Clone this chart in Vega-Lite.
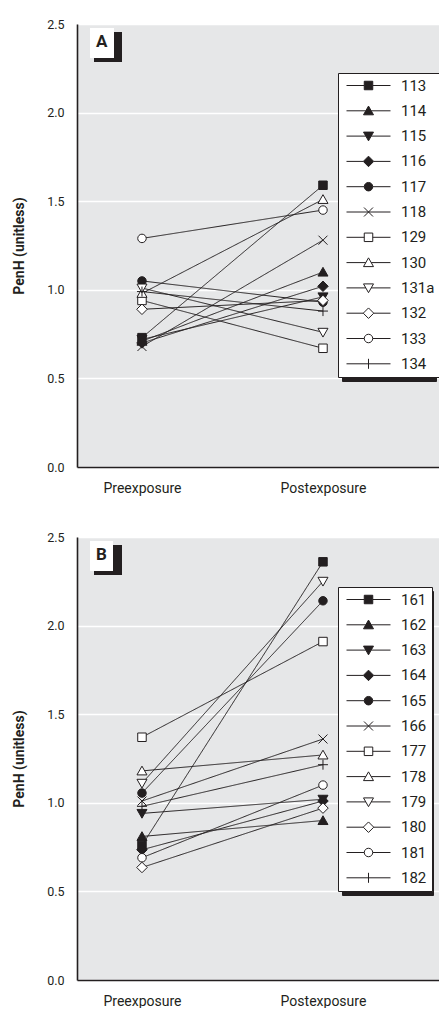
{
  "$schema": "https://vega.github.io/schema/vega-lite/v6.json",
  "padding": {"left": 12, "top": 18, "right": 0, "bottom": 0},
  "autosize": {"type": "pad"},
  "background": "white",
  "config": {
    "font": "Roboto",
    "view": {"fill": "#e6e7e8", "stroke": null},
    "axis": {"labelFont": "Roboto", "labelColor": "#231f20", "titleColor": "#231f20", "domainColor": "#231f20", "domainWidth": 1.6, "ticks": false, "gridColor": "white", "gridWidth": 1.5, "gridOpacity": 1},
    "legend": {"labelFont": "Roboto", "labelColor": "#231f20", "titleFont": "Roboto"}
  },
  "data": {"values": [
    {"panel": "A", "id": "113", "phase": "Preexposure", "value": 0.73},
    {"panel": "A", "id": "113", "phase": "Postexposure", "value": 1.59},
    {"panel": "A", "id": "114", "phase": "Preexposure", "value": 0.71},
    {"panel": "A", "id": "114", "phase": "Postexposure", "value": 1.10},
    {"panel": "A", "id": "115", "phase": "Preexposure", "value": 0.72},
    {"panel": "A", "id": "115", "phase": "Postexposure", "value": 0.96},
    {"panel": "A", "id": "116", "phase": "Preexposure", "value": 0.70},
    {"panel": "A", "id": "116", "phase": "Postexposure", "value": 1.02},
    {"panel": "A", "id": "117", "phase": "Preexposure", "value": 1.05},
    {"panel": "A", "id": "117", "phase": "Postexposure", "value": 0.93},
    {"panel": "A", "id": "118", "phase": "Preexposure", "value": 0.68},
    {"panel": "A", "id": "118", "phase": "Postexposure", "value": 1.28},
    {"panel": "A", "id": "129", "phase": "Preexposure", "value": 0.94},
    {"panel": "A", "id": "129", "phase": "Postexposure", "value": 0.67},
    {"panel": "A", "id": "130", "phase": "Preexposure", "value": 0.98},
    {"panel": "A", "id": "130", "phase": "Postexposure", "value": 1.51},
    {"panel": "A", "id": "131a", "phase": "Preexposure", "value": 1.01},
    {"panel": "A", "id": "131a", "phase": "Postexposure", "value": 0.76},
    {"panel": "A", "id": "132", "phase": "Preexposure", "value": 0.89},
    {"panel": "A", "id": "132", "phase": "Postexposure", "value": 0.94},
    {"panel": "A", "id": "133", "phase": "Preexposure", "value": 1.29},
    {"panel": "A", "id": "133", "phase": "Postexposure", "value": 1.45},
    {"panel": "A", "id": "134", "phase": "Preexposure", "value": 0.99},
    {"panel": "A", "id": "134", "phase": "Postexposure", "value": 0.88},
    {"panel": "B", "id": "161", "phase": "Preexposure", "value": 0.76},
    {"panel": "B", "id": "161", "phase": "Postexposure", "value": 2.36},
    {"panel": "B", "id": "162", "phase": "Preexposure", "value": 0.81},
    {"panel": "B", "id": "162", "phase": "Postexposure", "value": 0.90},
    {"panel": "B", "id": "163", "phase": "Preexposure", "value": 0.94},
    {"panel": "B", "id": "163", "phase": "Postexposure", "value": 1.02},
    {"panel": "B", "id": "164", "phase": "Preexposure", "value": 0.735},
    {"panel": "B", "id": "164", "phase": "Postexposure", "value": 1.01},
    {"panel": "B", "id": "165", "phase": "Preexposure", "value": 1.055},
    {"panel": "B", "id": "165", "phase": "Postexposure", "value": 2.14},
    {"panel": "B", "id": "166", "phase": "Preexposure", "value": 1.01},
    {"panel": "B", "id": "166", "phase": "Postexposure", "value": 1.36},
    {"panel": "B", "id": "177", "phase": "Preexposure", "value": 1.37},
    {"panel": "B", "id": "177", "phase": "Postexposure", "value": 1.91},
    {"panel": "B", "id": "178", "phase": "Preexposure", "value": 1.18},
    {"panel": "B", "id": "178", "phase": "Postexposure", "value": 1.27},
    {"panel": "B", "id": "179", "phase": "Preexposure", "value": 1.11},
    {"panel": "B", "id": "179", "phase": "Postexposure", "value": 2.25},
    {"panel": "B", "id": "180", "phase": "Preexposure", "value": 0.635},
    {"panel": "B", "id": "180", "phase": "Postexposure", "value": 0.97},
    {"panel": "B", "id": "181", "phase": "Preexposure", "value": 0.69},
    {"panel": "B", "id": "181", "phase": "Postexposure", "value": 1.10},
    {"panel": "B", "id": "182", "phase": "Preexposure", "value": 0.98},
    {"panel": "B", "id": "182", "phase": "Postexposure", "value": 1.215}
  ]},
  "spacing": 36,
  "resolve": {"scale": {"strokeDash": "independent", "shape": "independent", "fill": "independent", "stroke": "independent"}, "legend": {"strokeDash": "independent", "shape": "independent", "fill": "independent", "stroke": "independent"}},
  "vconcat": [
    {
      "width": 362,
      "height": 443,
      "transform": [{"filter": "datum.panel === 'A'"}],
      "encoding": {
        "x": {"field": "phase", "type": "nominal", "sort": ["Preexposure", "Postexposure"], "scale": {"paddingOuter": 0.7483, "align": 0.359}, "axis": {"title": null, "labelAngle": 0, "labelFontSize": 14, "labelPadding": 14, "grid": false}},
        "y": {"field": "value", "type": "quantitative", "scale": {"domain": [0, 2.5], "nice": false}, "axis": {"title": "PenH (unitless)", "titleFontSize": 14, "titleFontWeight": "bold", "titlePadding": 20, "values": [0, 0.5, 1, 1.5, 2, 2.5], "format": ".1f", "labelFontSize": 12.5, "labelPadding": 13}}
      },
      "layer": [
        {"mark": {"type": "line", "stroke": "#231f20", "strokeWidth": 1, "opacity": 0},
         "encoding": {
           "detail": {"field": "id"},
           "strokeDash": {"field": "panel", "type": "nominal", "scale": {"range": [[1, 0]]}, "legend": {"title": "\u00a0", "titleFontSize": 6, "titleColor": "#231f20", "titlePadding": 0, "orient": "none", "legendX": 17, "legendY": 8, "fillColor": "#231f20", "padding": 11.5, "labelExpr": "''", "labelFontSize": 0.01, "labelOpacity": 0, "symbolSize": 0, "symbolStrokeWidth": 0, "symbolOpacity": 0}}
         }},
        {"mark": {"type": "line", "stroke": "#231f20", "strokeWidth": 1},
         "encoding": {
           "detail": {"field": "id"},
           "strokeDash": {"field": "panel", "type": "nominal", "scale": {"range": [[1, 0]]}, "legend": {"title": "A", "titleFontSize": 17, "titleFontWeight": "bold", "titleColor": "#231f20", "titlePadding": 0, "orient": "none", "legendX": 13, "legendY": 4, "fillColor": "white", "padding": 6, "labelExpr": "''", "labelFontSize": 0.01, "labelOpacity": 0, "symbolSize": 0, "symbolStrokeWidth": 0, "symbolOpacity": 0}}
         }},
        {"mark": {"type": "point", "filled": true, "size": 100, "stroke": "#231f20", "strokeWidth": 1, "opacity": 1},
         "encoding": {
           "shape": {"field": "id", "type": "nominal", "legend": null, "scale": {"domain": ["113","114","115","116","117","118","129","130","131a","132","133","134"], "range": [
             "M-0.85,-0.85H0.85V0.85H-0.85Z",
             "M0,-0.95L1,0.8H-1Z",
             "M0,0.95L1,-0.8H-1Z",
             "M0,-1.05L1.05,0L0,1.05L-1.05,0Z",
             "M-0.85,0A0.85,0.85,0,1,0,0.85,0A0.85,0.85,0,1,0,-0.85,0Z",
             "M-0.9,-0.9L0.9,0.9M-0.9,0.9L0.9,-0.9",
             "M-0.85,-0.85H0.85V0.85H-0.85Z",
             "M0,-0.95L1,0.8H-1Z",
             "M0,0.95L1,-0.8H-1Z",
             "M0,-1.05L1.05,0L0,1.05L-1.05,0Z",
             "M-0.85,0A0.85,0.85,0,1,0,0.85,0A0.85,0.85,0,1,0,-0.85,0Z",
             "M-1,0H1M0,-1V1"]}},
           "fill": {"field": "id", "type": "nominal", "legend": null, "scale": {"domain": ["113","114","115","116","117","118","129","130","131a","132","133","134"], "range": ["#231f20","#231f20","#231f20","#231f20","#231f20","#231f20","white","white","white","white","white","white"]}}
         }},
        {"mark": {"type": "point", "filled": true, "size": 100, "strokeWidth": 1, "opacity": 0},
         "encoding": {
           "shape": {"field": "id", "type": "nominal", "scale": {"domain": ["113","114","115","116","117","118","129","130","131a","132","133","134"], "range": [
             "M-4.4,0H-0.85M0.85,0H4.4M-0.85,-0.85H0.85V0.85H-0.85Z",
             "M-4.4,0H-0.54M0.54,0H4.4M0,-0.95L1,0.8H-1Z",
             "M-4.4,0H-0.54M0.54,0H4.4M0,0.95L1,-0.8H-1Z",
             "M-4.4,0H-1.05M1.05,0H4.4M0,-1.05L1.05,0L0,1.05L-1.05,0Z",
             "M-4.4,0H-0.85M0.85,0H4.4M-0.85,0A0.85,0.85,0,1,0,0.85,0A0.85,0.85,0,1,0,-0.85,0Z",
             "M-4.4,0H4.4M-0.9,-0.9L0.9,0.9M-0.9,0.9L0.9,-0.9",
             "M-4.4,0H-0.85M0.85,0H4.4M-0.85,-0.85H0.85V0.85H-0.85Z",
             "M-4.4,0H-0.54M0.54,0H4.4M0,-0.95L1,0.8H-1Z",
             "M-4.4,0H-0.54M0.54,0H4.4M0,0.95L1,-0.8H-1Z",
             "M-4.4,0H-1.05M1.05,0H4.4M0,-1.05L1.05,0L0,1.05L-1.05,0Z",
             "M-4.4,0H-0.85M0.85,0H4.4M-0.85,0A0.85,0.85,0,1,0,0.85,0A0.85,0.85,0,1,0,-0.85,0Z",
             "M-4.4,0H4.4M0,-1V1"]},
             "legend": {"title": null, "orient": "none", "legendX": 265, "legendY": 53, "strokeColor": "#231f20", "fillColor": "#231f20", "padding": 5, "rowPadding": 9.3, "labelFontSize": 15, "symbolOffset": 18, "labelOffset": 51, "labelOpacity": 0, "symbolOpacity": 0, "labelExpr": "'\u00a0\u00a0\u00a0\u00a0\u00a0\u00a0\u00a0\u00a0\u00a0'"}},
           "fill": {"field": "id", "type": "nominal", "scale": {"domain": ["113","114","115","116","117","118","129","130","131a","132","133","134"], "range": ["#231f20","#231f20","#231f20","#231f20","#231f20","#231f20","white","white","white","white","white","white"]}},
           "stroke": {"field": "id", "type": "nominal", "scale": {"domain": ["113","114","115","116","117","118","129","130","131a","132","133","134"], "range": ["#231f20","#231f20","#231f20","#231f20","#231f20","#231f20","#231f20","#231f20","#231f20","#231f20","#231f20","#231f20"]}}
         }},
        {"mark": {"type": "point", "filled": true, "size": 100, "strokeWidth": 1, "opacity": 0},
         "encoding": {
           "shape": {"field": "id", "type": "nominal", "scale": {"domain": ["113","114","115","116","117","118","129","130","131a","132","133","134"], "range": [
             "M-4.4,0H-0.85M0.85,0H4.4M-0.85,-0.85H0.85V0.85H-0.85Z",
             "M-4.4,0H-0.54M0.54,0H4.4M0,-0.95L1,0.8H-1Z",
             "M-4.4,0H-0.54M0.54,0H4.4M0,0.95L1,-0.8H-1Z",
             "M-4.4,0H-1.05M1.05,0H4.4M0,-1.05L1.05,0L0,1.05L-1.05,0Z",
             "M-4.4,0H-0.85M0.85,0H4.4M-0.85,0A0.85,0.85,0,1,0,0.85,0A0.85,0.85,0,1,0,-0.85,0Z",
             "M-4.4,0H4.4M-0.9,-0.9L0.9,0.9M-0.9,0.9L0.9,-0.9",
             "M-4.4,0H-0.85M0.85,0H4.4M-0.85,-0.85H0.85V0.85H-0.85Z",
             "M-4.4,0H-0.54M0.54,0H4.4M0,-0.95L1,0.8H-1Z",
             "M-4.4,0H-0.54M0.54,0H4.4M0,0.95L1,-0.8H-1Z",
             "M-4.4,0H-1.05M1.05,0H4.4M0,-1.05L1.05,0L0,1.05L-1.05,0Z",
             "M-4.4,0H-0.85M0.85,0H4.4M-0.85,0A0.85,0.85,0,1,0,0.85,0A0.85,0.85,0,1,0,-0.85,0Z",
             "M-4.4,0H4.4M0,-1V1"]},
             "legend": {"title": null, "orient": "none", "legendX": 261, "legendY": 49, "strokeColor": "#231f20", "fillColor": "white", "padding": 5, "rowPadding": 9.3, "labelFontSize": 15, "symbolOffset": 18, "labelOffset": 25, "symbolOpacity": 1, "symbolStrokeWidth": 1}},
           "fill": {"field": "id", "type": "nominal", "scale": {"domain": ["113","114","115","116","117","118","129","130","131a","132","133","134"], "range": ["#231f20","#231f20","#231f20","#231f20","#231f20","#231f20","white","white","white","white","white","white"]}},
           "stroke": {"field": "id", "type": "nominal", "scale": {"domain": ["113","114","115","116","117","118","129","130","131a","132","133","134"], "range": ["#231f20","#231f20","#231f20","#231f20","#231f20","#231f20","#231f20","#231f20","#231f20","#231f20","#231f20","#231f20"]}}
         }}
      ],
      "resolve": {"scale": {"shape": "independent", "fill": "independent", "stroke": "independent", "strokeDash": "independent"}, "legend": {"shape": "independent", "fill": "independent", "stroke": "independent", "strokeDash": "independent"}}
    },
    {
      "width": 362,
      "height": 443,
      "transform": [{"filter": "datum.panel === 'B'"}],
      "encoding": {
        "x": {"field": "phase", "type": "nominal", "sort": ["Preexposure", "Postexposure"], "scale": {"paddingOuter": 0.7483, "align": 0.359}, "axis": {"title": null, "labelAngle": 0, "labelFontSize": 14, "labelPadding": 14, "grid": false}},
        "y": {"field": "value", "type": "quantitative", "scale": {"domain": [0, 2.5], "nice": false}, "axis": {"title": "PenH (unitless)", "titleFontSize": 14, "titleFontWeight": "bold", "titlePadding": 20, "values": [0, 0.5, 1, 1.5, 2, 2.5], "format": ".1f", "labelFontSize": 12.5, "labelPadding": 13}}
      },
      "layer": [
        {"mark": {"type": "line", "stroke": "#231f20", "strokeWidth": 1, "opacity": 0},
         "encoding": {
           "detail": {"field": "id"},
           "strokeDash": {"field": "panel", "type": "nominal", "scale": {"range": [[1, 0]]}, "legend": {"title": "\u00a0", "titleFontSize": 6, "titleColor": "#231f20", "titlePadding": 0, "orient": "none", "legendX": 17, "legendY": 8, "fillColor": "#231f20", "padding": 11.5, "labelExpr": "''", "labelFontSize": 0.01, "labelOpacity": 0, "symbolSize": 0, "symbolStrokeWidth": 0, "symbolOpacity": 0}}
         }},
        {"mark": {"type": "line", "stroke": "#231f20", "strokeWidth": 1},
         "encoding": {
           "detail": {"field": "id"},
           "strokeDash": {"field": "panel", "type": "nominal", "scale": {"range": [[1, 0]]}, "legend": {"title": "B", "titleFontSize": 17, "titleFontWeight": "bold", "titleColor": "#231f20", "titlePadding": 0, "orient": "none", "legendX": 13, "legendY": 4, "fillColor": "white", "padding": 6, "labelExpr": "''", "labelFontSize": 0.01, "labelOpacity": 0, "symbolSize": 0, "symbolStrokeWidth": 0, "symbolOpacity": 0}}
         }},
        {"mark": {"type": "point", "filled": true, "size": 100, "stroke": "#231f20", "strokeWidth": 1, "opacity": 1},
         "encoding": {
           "shape": {"field": "id", "type": "nominal", "legend": null, "scale": {"domain": ["161","162","163","164","165","166","177","178","179","180","181","182"], "range": [
             "M-0.85,-0.85H0.85V0.85H-0.85Z",
             "M0,-0.95L1,0.8H-1Z",
             "M0,0.95L1,-0.8H-1Z",
             "M0,-1.05L1.05,0L0,1.05L-1.05,0Z",
             "M-0.85,0A0.85,0.85,0,1,0,0.85,0A0.85,0.85,0,1,0,-0.85,0Z",
             "M-0.9,-0.9L0.9,0.9M-0.9,0.9L0.9,-0.9",
             "M-0.85,-0.85H0.85V0.85H-0.85Z",
             "M0,-0.95L1,0.8H-1Z",
             "M0,0.95L1,-0.8H-1Z",
             "M0,-1.05L1.05,0L0,1.05L-1.05,0Z",
             "M-0.85,0A0.85,0.85,0,1,0,0.85,0A0.85,0.85,0,1,0,-0.85,0Z",
             "M-1,0H1M0,-1V1"]}},
           "fill": {"field": "id", "type": "nominal", "legend": null, "scale": {"domain": ["161","162","163","164","165","166","177","178","179","180","181","182"], "range": ["#231f20","#231f20","#231f20","#231f20","#231f20","#231f20","white","white","white","white","white","white"]}}
         }},
        {"mark": {"type": "point", "filled": true, "size": 100, "strokeWidth": 1, "opacity": 0},
         "encoding": {
           "shape": {"field": "id", "type": "nominal", "scale": {"domain": ["161","162","163","164","165","166","177","178","179","180","181","182"], "range": [
             "M-4.4,0H-0.85M0.85,0H4.4M-0.85,-0.85H0.85V0.85H-0.85Z",
             "M-4.4,0H-0.54M0.54,0H4.4M0,-0.95L1,0.8H-1Z",
             "M-4.4,0H-0.54M0.54,0H4.4M0,0.95L1,-0.8H-1Z",
             "M-4.4,0H-1.05M1.05,0H4.4M0,-1.05L1.05,0L0,1.05L-1.05,0Z",
             "M-4.4,0H-0.85M0.85,0H4.4M-0.85,0A0.85,0.85,0,1,0,0.85,0A0.85,0.85,0,1,0,-0.85,0Z",
             "M-4.4,0H4.4M-0.9,-0.9L0.9,0.9M-0.9,0.9L0.9,-0.9",
             "M-4.4,0H-0.85M0.85,0H4.4M-0.85,-0.85H0.85V0.85H-0.85Z",
             "M-4.4,0H-0.54M0.54,0H4.4M0,-0.95L1,0.8H-1Z",
             "M-4.4,0H-0.54M0.54,0H4.4M0,0.95L1,-0.8H-1Z",
             "M-4.4,0H-1.05M1.05,0H4.4M0,-1.05L1.05,0L0,1.05L-1.05,0Z",
             "M-4.4,0H-0.85M0.85,0H4.4M-0.85,0A0.85,0.85,0,1,0,0.85,0A0.85,0.85,0,1,0,-0.85,0Z",
             "M-4.4,0H4.4M0,-1V1"]},
             "legend": {"title": null, "orient": "none", "legendX": 265, "legendY": 54, "strokeColor": "#231f20", "fillColor": "#231f20", "padding": 5, "rowPadding": 9.3, "labelFontSize": 15, "symbolOffset": 18, "labelOffset": 48, "labelOpacity": 0, "symbolOpacity": 0, "labelExpr": "'\u00a0\u00a0\u00a0\u00a0\u00a0\u00a0\u00a0'"}},
           "fill": {"field": "id", "type": "nominal", "scale": {"domain": ["161","162","163","164","165","166","177","178","179","180","181","182"], "range": ["#231f20","#231f20","#231f20","#231f20","#231f20","#231f20","white","white","white","white","white","white"]}},
           "stroke": {"field": "id", "type": "nominal", "scale": {"domain": ["161","162","163","164","165","166","177","178","179","180","181","182"], "range": ["#231f20","#231f20","#231f20","#231f20","#231f20","#231f20","#231f20","#231f20","#231f20","#231f20","#231f20","#231f20"]}}
         }},
        {"mark": {"type": "point", "filled": true, "size": 100, "strokeWidth": 1, "opacity": 0},
         "encoding": {
           "shape": {"field": "id", "type": "nominal", "scale": {"domain": ["161","162","163","164","165","166","177","178","179","180","181","182"], "range": [
             "M-4.4,0H-0.85M0.85,0H4.4M-0.85,-0.85H0.85V0.85H-0.85Z",
             "M-4.4,0H-0.54M0.54,0H4.4M0,-0.95L1,0.8H-1Z",
             "M-4.4,0H-0.54M0.54,0H4.4M0,0.95L1,-0.8H-1Z",
             "M-4.4,0H-1.05M1.05,0H4.4M0,-1.05L1.05,0L0,1.05L-1.05,0Z",
             "M-4.4,0H-0.85M0.85,0H4.4M-0.85,0A0.85,0.85,0,1,0,0.85,0A0.85,0.85,0,1,0,-0.85,0Z",
             "M-4.4,0H4.4M-0.9,-0.9L0.9,0.9M-0.9,0.9L0.9,-0.9",
             "M-4.4,0H-0.85M0.85,0H4.4M-0.85,-0.85H0.85V0.85H-0.85Z",
             "M-4.4,0H-0.54M0.54,0H4.4M0,-0.95L1,0.8H-1Z",
             "M-4.4,0H-0.54M0.54,0H4.4M0,0.95L1,-0.8H-1Z",
             "M-4.4,0H-1.05M1.05,0H4.4M0,-1.05L1.05,0L0,1.05L-1.05,0Z",
             "M-4.4,0H-0.85M0.85,0H4.4M-0.85,0A0.85,0.85,0,1,0,0.85,0A0.85,0.85,0,1,0,-0.85,0Z",
             "M-4.4,0H4.4M0,-1V1"]},
             "legend": {"title": null, "orient": "none", "legendX": 261, "legendY": 50, "strokeColor": "#231f20", "fillColor": "white", "padding": 5, "rowPadding": 9.3, "labelFontSize": 15, "symbolOffset": 18, "labelOffset": 25, "symbolOpacity": 1, "symbolStrokeWidth": 1}},
           "fill": {"field": "id", "type": "nominal", "scale": {"domain": ["161","162","163","164","165","166","177","178","179","180","181","182"], "range": ["#231f20","#231f20","#231f20","#231f20","#231f20","#231f20","white","white","white","white","white","white"]}},
           "stroke": {"field": "id", "type": "nominal", "scale": {"domain": ["161","162","163","164","165","166","177","178","179","180","181","182"], "range": ["#231f20","#231f20","#231f20","#231f20","#231f20","#231f20","#231f20","#231f20","#231f20","#231f20","#231f20","#231f20"]}}
         }}
      ],
      "resolve": {"scale": {"shape": "independent", "fill": "independent", "stroke": "independent", "strokeDash": "independent"}, "legend": {"shape": "independent", "fill": "independent", "stroke": "independent", "strokeDash": "independent"}}
    }
  ]
}
